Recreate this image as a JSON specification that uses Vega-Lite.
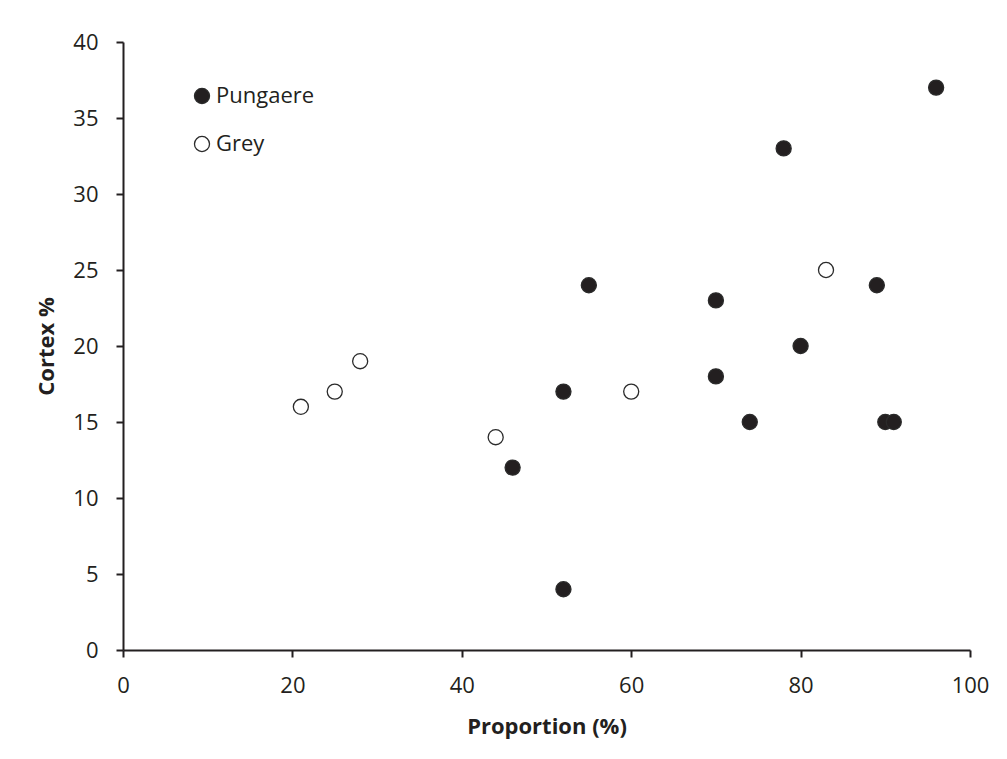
{
  "$schema": "https://vega.github.io/schema/vega-lite/v6.json",
  "width": 847,
  "height": 608,
  "autosize": {"type": "none"},
  "padding": {"left": 123, "top": 42, "right": 37, "bottom": 109},
  "background": "white",
  "config": {
    "view": {"stroke": null},
    "font": "Open Sans"
  },
  "data": {
    "values": [
      {"proportion": 96, "cortex": 37, "type": "Pungaere"},
      {"proportion": 78, "cortex": 33, "type": "Pungaere"},
      {"proportion": 55, "cortex": 24, "type": "Pungaere"},
      {"proportion": 89, "cortex": 24, "type": "Pungaere"},
      {"proportion": 70, "cortex": 23, "type": "Pungaere"},
      {"proportion": 80, "cortex": 20, "type": "Pungaere"},
      {"proportion": 70, "cortex": 18, "type": "Pungaere"},
      {"proportion": 52, "cortex": 17, "type": "Pungaere"},
      {"proportion": 74, "cortex": 15, "type": "Pungaere"},
      {"proportion": 90, "cortex": 15, "type": "Pungaere"},
      {"proportion": 91, "cortex": 15, "type": "Pungaere"},
      {"proportion": 46, "cortex": 12, "type": "Pungaere"},
      {"proportion": 52, "cortex": 4, "type": "Pungaere"},
      {"proportion": 83, "cortex": 25, "type": "Grey"},
      {"proportion": 28, "cortex": 19, "type": "Grey"},
      {"proportion": 25, "cortex": 17, "type": "Grey"},
      {"proportion": 21, "cortex": 16, "type": "Grey"},
      {"proportion": 60, "cortex": 17, "type": "Grey"},
      {"proportion": 44, "cortex": 14, "type": "Grey"}
    ]
  },
  "mark": {"type": "point", "shape": "circle", "filled": true, "size": 227, "opacity": 1, "stroke": "#2b2b2b", "strokeWidth": 1.3},
  "encoding": {
    "x": {
      "field": "proportion", "type": "quantitative",
      "scale": {"domain": [0, 100], "nice": false, "zero": true},
      "axis": {
        "title": "Proportion (%)", "values": [0, 20, 40, 60, 80, 100], "grid": false,
        "labelFlush": false, "labelOverlap": false,
        "domainColor": "#231f20", "domainWidth": 2, "tickColor": "#231f20", "tickWidth": 2, "tickSize": 7,
        "labelFontSize": 22, "labelColor": "#231f20", "labelPadding": 18,
        "titleFontSize": 22, "titleFontWeight": "bold", "titleColor": "#231f20", "titlePadding": 20
      }
    },
    "y": {
      "field": "cortex", "type": "quantitative",
      "scale": {"domain": [0, 40], "nice": false},
      "axis": {
        "title": "Cortex %", "values": [0, 5, 10, 15, 20, 25, 30, 35, 40], "grid": false,
        "labelFlush": false, "labelOverlap": false,
        "domainColor": "#231f20", "domainWidth": 2, "tickColor": "#231f20", "tickWidth": 2, "tickSize": 7,
        "labelFontSize": 22, "labelColor": "#231f20", "labelPadding": 18,
        "titleFontSize": 22, "titleFontWeight": "bold", "titleColor": "#231f20", "titlePadding": 14
      }
    },
    "color": {
      "field": "type", "type": "nominal",
      "scale": {"domain": ["Pungaere", "Grey"], "range": ["#231f20", "#ffffff"]},
      "legend": {
        "title": null, "orient": "none", "legendX": 68, "legendY": 43,
        "labelFontSize": 22, "labelColor": "#231f20", "labelOffset": 3,
        "symbolSize": 227, "symbolType": "circle", "symbolStrokeColor": "#2b2b2b", "symbolStrokeWidth": 1.3,
        "symbolOpacity": 1, "rowPadding": 26
      }
    }
  }
}
